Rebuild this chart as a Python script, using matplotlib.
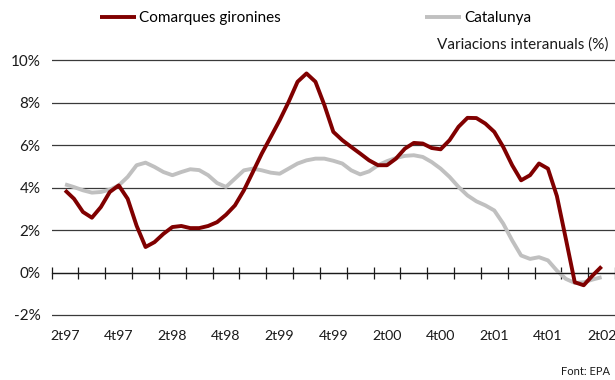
import matplotlib
matplotlib.use("Agg")
import matplotlib.pyplot as plt
import numpy as np

# Quarter labels shown on the category axis (every second quarter)
quarters = ["2t97", "3t97", "4t97", "1t98", "2t98", "3t98", "4t98", "1t99",
            "2t99", "3t99", "4t99", "1t00", "2t00", "3t00", "4t00", "1t01",
            "2t01", "3t01", "4t01", "1t02", "2t02"]

# Year-on-year change (%), monthly steps from 2t97 to 2t02
girona = [3.87, 3.47, 2.85, 2.58, 3.08, 3.79, 4.10, 3.47, 2.20, 1.20,
          1.43, 1.82, 2.14, 2.19, 2.09, 2.09, 2.19, 2.37, 2.72, 3.16,
          3.87, 4.73, 5.60, 6.38, 7.17, 8.03, 8.98, 9.37, 8.98, 7.88,
          6.62, 6.23, 5.91, 5.60, 5.28, 5.05, 5.05, 5.36, 5.83, 6.10,
          6.07, 5.86, 5.80, 6.23, 6.86, 7.28, 7.27, 7.01, 6.62, 5.91,
          5.05, 4.34, 4.58, 5.13, 4.89, 3.60, 1.59, -0.46, -0.60, -0.14,
          0.28]
catalunya = [4.15, 4.02, 3.87, 3.76, 3.79, 3.90, 4.10, 4.50, 5.05, 5.17,
             4.97, 4.73, 4.58, 4.73, 4.86, 4.82, 4.58, 4.21, 4.03, 4.42,
             4.81, 4.89, 4.81, 4.70, 4.65, 4.89, 5.13, 5.28, 5.36, 5.36,
             5.26, 5.13, 4.81, 4.62, 4.76, 5.05, 5.24, 5.39, 5.49, 5.52,
             5.44, 5.20, 4.89, 4.50, 4.03, 3.63, 3.35, 3.16, 2.92, 2.30,
             1.51, 0.80, 0.64, 0.72, 0.57, 0.09, -0.30, -0.49, -0.46, -0.33,
             -0.22]

red = "#800000"
grey = "#C0C0C0"
text_color = "#1a1a1a"

plt.rcParams["font.family"] = ["Lato", "DejaVu Sans"]
fig = plt.figure(figsize=(6.15, 3.8), dpi=100)
ax = fig.add_axes([0.084, 0.1655, 0.916, 0.682])

months = np.arange(len(girona)) / 3.0
ax.plot(months, girona, color=red, lw=2.8, solid_capstyle="butt",
        solid_joinstyle="round", label="Comarques gironines", zorder=3)
ax.plot(months, catalunya, color=grey, lw=2.8, solid_capstyle="butt",
        solid_joinstyle="round", label="Catalunya", zorder=2)

ax.set_xlim(-0.5, len(quarters) - 0.5)
ax.set_ylim(-2.1, 10.1)

# Horizontal grid
ax.set_yticks(np.arange(-2, 11, 2))
ax.set_yticklabels([f"{v}%" for v in range(-2, 11, 2)])
ax.yaxis.grid(True, color="#3a3a3a", lw=0.9)
ax.tick_params(axis="y", length=0, pad=8, labelsize=11, labelcolor=text_color)
for s in ("left", "right", "top"):
    ax.spines[s].set_visible(False)

# Zero line with tick marks between categories
ax.spines["bottom"].set_position(("data", 0))
ax.spines["bottom"].set_color("#1a1a1a")
ax.spines["bottom"].set_linewidth(0.9)
ax.set_xticks(np.arange(-0.5, len(quarters), 1.0))
ax.tick_params(axis="x", direction="inout", length=8, width=0.9,
               color="#1a1a1a", labelbottom=False)

# Category labels below the plot area
sec = ax.secondary_xaxis(0.0)
sec.set_xticks(np.arange(0, len(quarters), 2))
sec.set_xticklabels(quarters[::2])
sec.tick_params(length=0, pad=9, labelsize=10.2, labelcolor=text_color)
sec.spines["bottom"].set_visible(False)

fig.legend(loc="center left", bbox_to_anchor=(0.162, 0.953), ncol=2,
           frameon=False, fontsize=11, handlelength=2.4, handletextpad=0.2,
           columnspacing=9.4, borderpad=0, borderaxespad=0)

fig.text(0.989, 0.882, "Variacions interanuals (%)", ha="right", va="center",
         fontsize=11, color=text_color)
fig.text(0.992, 0.022, "Font: EPA", ha="right", va="center",
         fontsize=8, color=text_color)

fig.savefig("out.png", dpi=100)
